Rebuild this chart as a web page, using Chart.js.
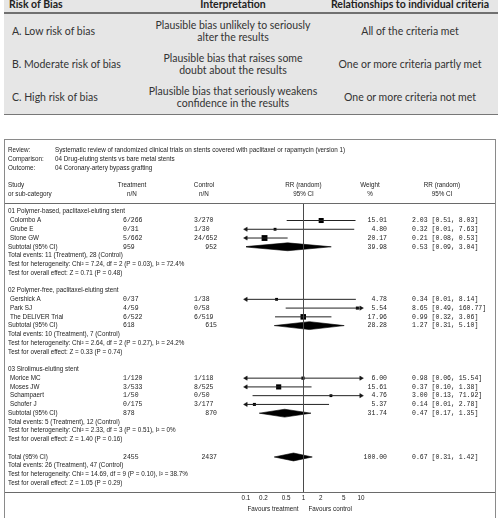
<!DOCTYPE html>
<html>
<head>
<meta charset="utf-8">
<script src="https://cdn.jsdelivr.net/npm/chart.js@4.4.1/dist/chart.umd.min.js"></script>
<style>
    body { margin: 0; width: 502px; height: 518px; overflow: hidden; background: #fff; position: relative; }
    #riskTable { position: absolute; left: 4px; top: -3px; width: 494px; background: #e6e6e6; }
    #riskTable table { border-collapse: collapse; width: 494px; table-layout: fixed; font-family: Lato, "Open Sans", sans-serif; font-size: 10.5px; color: #333; }
    #riskTable th { height: 15px; padding: 0; line-height: 15px; font-weight: bold; color: #222; border-bottom: 2px solid #707070; }
    #riskTable td { height: 33.3px; padding: 0; line-height: 12px; text-align: center; }
    #riskTable th:first-child { text-align: left; padding-left: 5px; }
    #riskTable td:first-child { text-align: left; padding-left: 8px; }
    #riskTable th:last-child, #riskTable td:last-child { padding-left: 4px; }
    #riskTable tbody tr:last-child td { border-bottom: 1.5px solid #777; }
    #plotFrame { position: absolute; left: 4px; top: 139px; width: 490px; height: 380px; border: 1px solid #8a8a8a; background: #fff; }
    #forestPlot { display: block; }
</style>
</head>
<body>
<div id="riskTable">
    <table id="biasTable">
        <colgroup><col style="width:144px"><col style="width:170px"><col style="width:180px"></colgroup>
        <thead><tr><th>Risk of Bias</th><th>Interpretation</th><th>Relationships to individual criteria</th></tr></thead>
        <tbody></tbody>
    </table>
</div>
<div id="plotFrame"><canvas id="forestPlot" width="490" height="378"></canvas></div>
<script>
// Risk of bias table
const riskLevels = ['A. Low risk of bias', 'B. Moderate risk of bias', 'C. High risk of bias'];
const interpretations = [
    ['Plausible bias unlikely to seriously', 'alter the results'],
    ['Plausible bias that raises some', 'doubt about the results'],
    ['Plausible bias that seriously weakens', 'confidence in the results']
];
const criteriaMet = ['All of the criteria met', 'One or more criteria partly met', 'One or more criteria not met'];

// Forest plot header
const infoLabels = ['Review:', 'Comparison:', 'Outcome:'];
const infoValues = [
    'Systematic review of randomized clinical trials on stents covered with paclitaxel or rapamycin (version 1)',
    '04 Drug-eluting stents vs bare metal stents',
    '04 Coronary-artery bypass grafting'
];

// Sub-groups
const groupNames = ['01 Polymer-based, paclitaxel-eluting stent', '02 Polymer-free, paclitaxel-eluting stent', '03 Sirolimus-eluting stent'];
const groupRows = [0, 9, 18];

// Studies
const studies = ['Colombo A', 'Grube E', 'Stone GW', 'Gershick A', 'Park SJ', 'The DELIVER Trial', 'Morice MC', 'Moses JW', 'Schampaert', 'Schofer J'];
const studyRows = [1, 2, 3, 10, 11, 12, 19, 20, 21, 22];
const treatment = ['6/266', '0/31', '5/662', '0/37', '4/59', '6/522', '1/120', '3/533', '1/50', '0/175'];
const control = ['3/270', '1/30', '24/652', '1/38', '0/58', '6/519', '1/118', '8/525', '0/50', '3/177'];
const weights = [15.01, 4.80, 20.17, 4.78, 5.54, 17.96, 6.00, 15.61, 4.76, 5.37];
const rr = [2.03, 0.32, 0.21, 0.34, 8.65, 0.99, 0.98, 0.37, 3.00, 0.14];
const rrLow = [0.51, 0.01, 0.08, 0.01, 0.49, 0.32, 0.06, 0.10, 0.13, 0.01];
const rrHigh = [8.03, 7.63, 0.53, 8.14, 160.77, 3.06, 15.54, 1.38, 71.92, 2.78];

// Subtotals and total
const pooledLabels = ['Subtotal (95% CI)', 'Subtotal (95% CI)', 'Subtotal (95% CI)', 'Total (95% CI)'];
const pooledRows = [4, 13, 23, 28];
const pooledTreatment = ['959', '618', '878', '2455'];
const pooledControl = ['952', '615', '870', '2437'];
const pooledWeights = [39.98, 28.28, 31.74, 100.00];
const pooledRR = [0.53, 1.27, 0.47, 0.67];
const pooledLow = [0.09, 0.31, 0.17, 0.31];
const pooledHigh = [3.04, 5.10, 1.35, 1.42];
const pooledNotes = [
    ['Total events: 11 (Treatment), 28 (Control)', 'Test for heterogeneity: Chi\u00B2 = 7.24, df = 2 (P = 0.03), I\u00B2 = 72.4%', 'Test for overall effect: Z = 0.71 (P = 0.48)'],
    ['Total events: 10 (Treatment), 7 (Control)', 'Test for heterogeneity: Chi\u00B2 = 2.64, df = 2 (P = 0.27), I\u00B2 = 24.2%', 'Test for overall effect: Z = 0.33 (P = 0.74)'],
    ['Total events: 5 (Treatment), 12 (Control)', 'Test for heterogeneity: Chi\u00B2 = 2.33, df = 3 (P = 0.51), I\u00B2 = 0%', 'Test for overall effect: Z = 1.40 (P = 0.16)'],
    ['Total events: 26 (Treatment), 47 (Control)', 'Test for heterogeneity: Chi\u00B2 = 14.69, df = 9 (P = 0.10), I\u00B2 = 38.7%', 'Test for overall effect: Z = 1.05 (P = 0.29)']
];

// Axis
const tickValues = [0.1, 0.2, 0.5, 1, 2, 5, 10];
const tickLabels = ['0.1', '0.2', '0.5', '1', '2', '5', '10'];
const axisMin = 0.1;
const axisMax = 10;

document.addEventListener('DOMContentLoaded', function() {
    // Fill the risk table
    const tbody = document.querySelector('#biasTable tbody');
    riskLevels.forEach(function(level, i) {
        const tr = document.createElement('tr');
        const c1 = document.createElement('td');
        c1.textContent = level;
        const c2 = document.createElement('td');
        c2.innerHTML = interpretations[i].join('<br>');
        const c3 = document.createElement('td');
        c3.textContent = criteriaMet[i];
        tr.append(c1, c2, c3);
        tbody.appendChild(tr);
    });

    const fmt = v => v.toFixed(2);
    const sans = '6.3px "Liberation Sans", Arial, sans-serif';
    const mono = '6.5px "Liberation Mono", "DejaVu Sans Mono", monospace';

    // Datasets for the plot
    const datasets = [];
    // line of no effect
    datasets.push({
        data: [{x: 1, y: -1}, {x: 1, y: 32}],
        showLine: true, borderColor: '#4a4a4a', borderWidth: 1, pointRadius: 0
    });
    // confidence intervals
    studies.forEach(function(s, i) {
        datasets.push({
            data: [{x: rrLow[i], y: studyRows[i]}, {x: rrHigh[i], y: studyRows[i]}],
            showLine: true, borderColor: '#222', borderWidth: 1, pointRadius: 0
        });
    });
    // arrows where CI leaves the axis
    const arrowPts = [], arrowRot = [];
    studies.forEach(function(s, i) {
        if (rrLow[i] <= axisMin) { arrowPts.push({x: axisMin, y: studyRows[i]}); arrowRot.push(270); }
        if (rrHigh[i] >= axisMax) { arrowPts.push({x: axisMax, y: studyRows[i]}); arrowRot.push(90); }
    });
    datasets.push({
        data: arrowPts, pointStyle: 'triangle', pointRotation: arrowRot, pointRadius: 2.4,
        backgroundColor: '#111', borderColor: '#111', borderWidth: 0.5, clip: false
    });
    // study estimates, sized by weight
    datasets.push({
        data: studies.map((s, i) => ({x: rr[i], y: studyRows[i]})),
        pointStyle: 'rect', pointRadius: weights.map(w => 0.92 * Math.sqrt(w)),
        backgroundColor: '#000', borderColor: '#000', borderWidth: 0
    });
    // pooled diamonds
    pooledRows.forEach(function(r, i) {
        datasets.push({
            data: [
                {x: pooledLow[i], y: r}, {x: pooledRR[i], y: r - 0.45},
                {x: pooledHigh[i], y: r}, {x: pooledRR[i], y: r + 0.45}, {x: pooledLow[i], y: r}
            ],
            showLine: true, fill: 'shape', borderColor: '#000', borderWidth: 0.6,
            backgroundColor: '#000', pointRadius: 0, tension: 0
        });
    });

    // Text columns and separators drawn on the chart's rows
    const forestText = {
        id: 'forestText',
        afterDraw(chart) {
            const ctx = chart.ctx;
            const xs = chart.scales.x, ys = chart.scales.y;
            const rowY = r => ys.getPixelForValue(r);
            const px1 = xs.getPixelForValue(1);
            ctx.save();
            ctx.strokeStyle = '#6a6a6a';
            ctx.lineWidth = 1;
            [-1, 32].forEach(function(r) {
                const py = Math.round(rowY(r)) + 0.5;
                ctx.beginPath();
                ctx.moveTo(0, py);
                ctx.lineTo(chart.width, py);
                ctx.stroke();
            });
            ctx.textBaseline = 'middle';
            function txt(s, x, r, align, font, color) {
                ctx.font = font;
                ctx.textAlign = align;
                ctx.fillStyle = color || '#222';
                ctx.fillText(s, x, rowY(r));
            }
            // header info
            infoLabels.forEach(function(l, i) {
                txt(l, 3, -7 + i, 'left', sans);
                txt(infoValues[i], 50, -7 + i, 'left', sans);
            });
            // column headings
            txt('Study', 3, -3, 'left', sans);
            txt('or sub-category', 3, -2, 'left', sans);
            txt('Treatment', 127, -3, 'center', sans);
            txt('n/N', 127, -2, 'center', sans);
            txt('Control', 199, -3, 'center', sans);
            txt('n/N', 199, -2, 'center', sans);
            txt('RR (random)', px1, -3, 'center', sans);
            txt('95% CI', px1, -2, 'center', sans);
            txt('Weight', 365, -3, 'center', sans);
            txt('%', 365, -2, 'center', sans);
            txt('RR (random)', 437, -3, 'center', sans);
            txt('95% CI', 437, -2, 'center', sans);
            // groups
            groupNames.forEach((g, i) => txt(g, 3, groupRows[i], 'left', sans));
            // studies
            studies.forEach(function(s, i) {
                const r = studyRows[i];
                txt(s, 5, r, 'left', sans);
                txt(treatment[i], 118, r, 'left', mono);
                txt(control[i], 189, r, 'left', mono);
                txt(fmt(weights[i]), 382, r, 'right', mono);
                txt(fmt(rr[i]) + ' [' + fmt(rrLow[i]) + ', ' + fmt(rrHigh[i]) + ']', 407, r, 'left', mono);
            });
            // pooled rows
            pooledRows.forEach(function(r, i) {
                txt(pooledLabels[i], 3, r, 'left', sans);
                txt(pooledTreatment[i], 118, r, 'left', mono);
                txt(pooledControl[i], 212, r, 'right', mono);
                txt(fmt(pooledWeights[i]), 382, r, 'right', mono);
                txt(fmt(pooledRR[i]) + ' [' + fmt(pooledLow[i]) + ', ' + fmt(pooledHigh[i]) + ']', 407, r, 'left', mono);
                pooledNotes[i].forEach((n, k) => txt(n, 3, r + 1 + k, 'left', sans));
            });
            // favours labels
            txt('Favours treatment', px1 - 5, 34, 'right', sans);
            txt('Favours control', px1 + 5, 34, 'left', sans);
            ctx.restore();
        }
    };

    new Chart(document.getElementById('forestPlot'), {
        type: 'scatter',
        data: { datasets: datasets },
        options: {
            responsive: false,
            animation: false,
            layout: { padding: { left: 241, right: 134, top: 63, bottom: 12 } },
            plugins: { legend: { display: false }, tooltip: { enabled: false } },
            scales: {
                x: {
                    type: 'logarithmic', min: axisMin, max: axisMax,
                    grid: { display: false, drawTicks: false },
                    border: { display: false },
                    afterBuildTicks: s => { s.ticks = tickValues.map(v => ({ value: v })); },
                    afterFit: s => { s.height = 14; },
                    ticks: {
                        autoSkip: false, maxRotation: 0, padding: 2, color: '#222',
                        font: { family: '"Liberation Sans", Arial, sans-serif', size: 6.3 },
                        callback: (v, i) => tickLabels[i]
                    }
                },
                y: { type: 'linear', reverse: true, min: -1, max: 32, display: false }
            }
        },
        plugins: [forestText]
    });
});
</script>
</body>
</html>
